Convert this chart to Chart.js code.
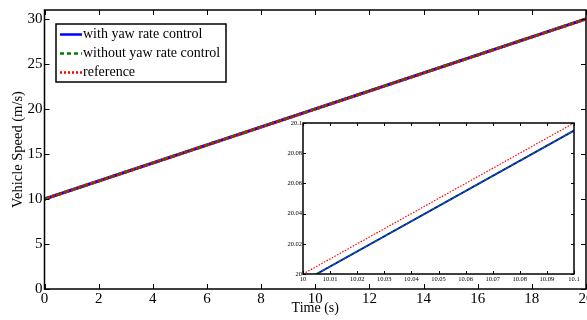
<!DOCTYPE html>
<html>
<head>
<meta charset="utf-8">
<script src="https://cdn.jsdelivr.net/npm/chart.js@4.4.1/dist/chart.umd.min.js"></script>
<style>
  body { margin: 0; background: #fff; }
  #wrap { position: relative; width: 587px; height: 320px; }
  #main { position: absolute; left: 0; top: 0; }
  #inset { position: absolute; left: 275px; top: 113px; }
</style>
</head>
<body>
<div id="wrap">
  <canvas id="main" width="587" height="320"></canvas>
  <canvas id="inset" width="305" height="172"></canvas>
</div>
<script>
// main plot data
const timeMain = [0, 20];
const speedWith = [10, 30];
const speedWithout = [10, 30];
const speedRef = [10, 30];

// zoomed inset data
const timeZoomRef = [10, 10.1];
const speedZoomRef = [20, 20.1];
const timeZoomCtrl = [10.005, 10.1];
const speedZoomWith = [20, 20.095];
const speedZoomWithout = [20, 20.095];

const seriesNames = ['with yaw rate control', 'without yaw rate control', 'reference'];
const mainXTicks = [0, 2, 4, 6, 8, 10, 12, 14, 16, 18, 20];
const mainYTicks = [0, 5, 10, 15, 20, 25, 30];
const zoomXTicks = [10, 10.01, 10.02, 10.03, 10.04, 10.05, 10.06, 10.07, 10.08, 10.09, 10.1];
const zoomYTicks = [20, 20.02, 20.04, 20.06, 20.08, 20.1];

const SERIF = '"Liberation Serif", "Times New Roman", serif';
const pts = (xs, ys) => xs.map((x, i) => ({ x: x, y: ys[i] }));
const setTicks = (arr) => (s) => { s.ticks = arr.map(v => ({ value: v })); };

// box frame + inward tick marks on all four sides
const frameTicks = {
  id: 'frameTicks',
  afterDraw(chart, args, opts) {
    const { ctx, chartArea: a, scales: { x, y } } = chart;
    const len = opts.len;
    ctx.save();
    ctx.strokeStyle = '#000';
    ctx.lineWidth = opts.width;
    ctx.beginPath();
    x.ticks.forEach(t => {
      const p = Math.round(x.getPixelForValue(t.value)) + 0.5;
      ctx.moveTo(p, a.bottom); ctx.lineTo(p, a.bottom - len);
      ctx.moveTo(p, a.top); ctx.lineTo(p, a.top + len);
    });
    y.ticks.forEach(t => {
      const p = Math.round(y.getPixelForValue(t.value)) + 0.5;
      ctx.moveTo(a.left, p); ctx.lineTo(a.left + len, p);
      ctx.moveTo(a.right, p); ctx.lineTo(a.right - len, p);
    });
    ctx.stroke();
    ctx.lineWidth = opts.frame;
    ctx.strokeRect(a.left, a.top, a.right - a.left, a.bottom - a.top);
    ctx.restore();
  }
};

// legend box inside the axes, with line samples
const boxLegend = {
  id: 'boxLegend',
  afterDraw(chart, args, opts) {
    if (!opts.show) return;
    const ctx = chart.ctx;
    ctx.save();
    ctx.fillStyle = '#fff';
    ctx.fillRect(56, 24, 170, 58);
    ctx.strokeStyle = '#000';
    ctx.lineWidth = 1.5;
    ctx.strokeRect(56, 24, 170, 58);
    ctx.font = '14px ' + SERIF;
    ctx.textBaseline = 'middle';
    chart.data.datasets.forEach((ds, i) => {
      const yy = 34.5 + i * 19;
      ctx.strokeStyle = ds.borderColor;
      ctx.lineWidth = 2.5;
      ctx.setLineDash(ds.borderDash || []);
      ctx.beginPath();
      ctx.moveTo(60, yy); ctx.lineTo(82, yy);
      ctx.stroke();
      ctx.setLineDash([]);
      ctx.fillStyle = '#000';
      ctx.fillText(ds.label, 83, yy);
    });
    ctx.restore();
  }
};

Chart.register(frameTicks, boxLegend);

// lower order is drawn on top: reference over dashed over solid
new Chart(document.getElementById('main'), {
  type: 'line',
  data: {
    datasets: [
      { label: seriesNames[0], data: pts(timeMain, speedWith), borderColor: '#0000ff', borderWidth: 3, pointRadius: 0, order: 2 },
      { label: seriesNames[1], data: pts(timeMain, speedWithout), borderColor: '#008000', borderWidth: 3, borderDash: [4, 3], pointRadius: 0, order: 1 },
      { label: seriesNames[2], data: pts(timeMain, speedRef), borderColor: '#ff0000', borderWidth: 3, borderDash: [2, 2], pointRadius: 0, order: 0 }
    ]
  },
  options: {
    responsive: false,
    animation: false,
    layout: { padding: { top: 10, right: 1, left: 0, bottom: 0 } },
    plugins: {
      legend: { display: false },
      tooltip: { enabled: false },
      frameTicks: { len: 5, width: 1, frame: 1.5 },
      boxLegend: { show: true }
    },
    scales: {
      x: {
        type: 'linear', min: 0, max: 20,
        afterBuildTicks: setTicks(mainXTicks),
        afterFit: (s) => { s.height = 31; s.paddingLeft = 0; s.paddingRight = 0; },
        grid: { display: false, drawTicks: false },
        border: { display: false },
        ticks: { color: '#000', font: { family: SERIF, size: 15 }, padding: 1, maxRotation: 0, autoSkip: false },
        title: { display: true, text: 'Time (s)', color: '#000', font: { family: SERIF, size: 14 }, padding: { top: 0, bottom: 3 } }
      },
      y: {
        type: 'linear', min: 0, max: 31,
        afterBuildTicks: setTicks(mainYTicks),
        afterFit: (s) => { s.width = 44.5; s.paddingTop = 0; s.paddingBottom = 0; },
        grid: { display: false, drawTicks: false },
        border: { display: false },
        ticks: { color: '#000', font: { family: SERIF, size: 15 }, padding: 2, autoSkip: false },
        title: { display: true, text: 'Vehicle Speed (m/s)', color: '#000', font: { family: SERIF, size: 14.5 }, padding: { top: 9, bottom: 0 } }
      }
    }
  }
});

new Chart(document.getElementById('inset'), {
  type: 'line',
  data: {
    datasets: [
      { label: seriesNames[0], data: pts(timeZoomCtrl, speedZoomWith), borderColor: '#0000ff', borderWidth: 2, pointRadius: 0, order: 2 },
      { label: seriesNames[1], data: pts(timeZoomCtrl, speedZoomWithout), borderColor: '#008000', borderWidth: 1.2, borderDash: [4, 2], pointRadius: 0, order: 1 },
      { label: seriesNames[2], data: pts(timeZoomRef, speedZoomRef), borderColor: '#ff0000', borderWidth: 1.2, borderDash: [1.5, 1.5], pointRadius: 0, order: 0 }
    ]
  },
  options: {
    responsive: false,
    animation: false,
    layout: { padding: { top: 10, right: 6, left: 0, bottom: 0 } },
    plugins: {
      legend: { display: false },
      tooltip: { enabled: false },
      frameTicks: { len: 3, width: 1, frame: 1.5 },
      boxLegend: { show: false }
    },
    scales: {
      x: {
        type: 'linear', min: 10, max: 10.1,
        afterBuildTicks: setTicks(zoomXTicks),
        afterFit: (s) => { s.height = 11; s.paddingLeft = 0; s.paddingRight = 0; },
        grid: { display: false, drawTicks: false },
        border: { display: false },
        ticks: { color: '#000', font: { family: SERIF, size: 6.5 }, padding: 1, maxRotation: 0, autoSkip: false,
          callback: (v) => String(+v.toFixed(2)) }
      },
      y: {
        type: 'linear', min: 20, max: 20.1,
        afterBuildTicks: setTicks(zoomYTicks),
        afterFit: (s) => { s.width = 28; s.paddingTop = 0; s.paddingBottom = 0; },
        grid: { display: false, drawTicks: false },
        border: { display: false },
        ticks: { color: '#000', font: { family: SERIF, size: 6.5 }, padding: 1, autoSkip: false,
          callback: (v) => String(+v.toFixed(2)) }
      }
    }
  }
});
</script>
</body>
</html>
